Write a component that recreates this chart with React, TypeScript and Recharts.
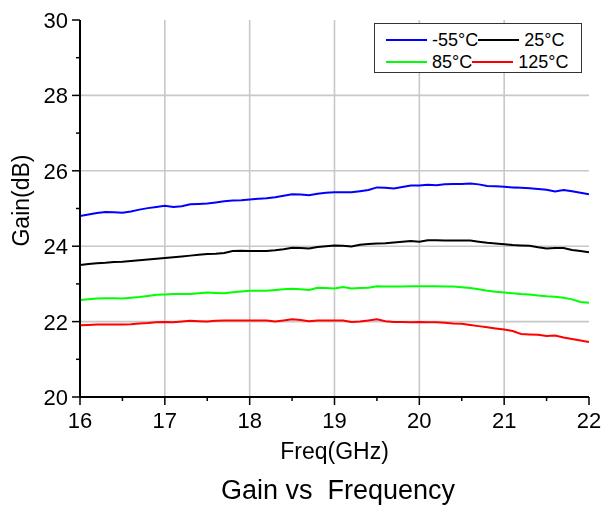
import { LineChart, Line, XAxis, YAxis, Legend, ReferenceLine } from "recharts";

const FONT = "'Liberation Sans', Arial, sans-serif";

// frequency points, GHz
const freq = [
  16.0, 16.1, 16.2, 16.3, 16.4, 16.5, 16.6, 16.7, 16.8, 16.9,
  17.0, 17.1, 17.2, 17.3, 17.4, 17.5, 17.6, 17.7, 17.8, 17.9,
  18.0, 18.1, 18.2, 18.3, 18.4, 18.5, 18.6, 18.7, 18.8, 18.9,
  19.0, 19.1, 19.2, 19.3, 19.4, 19.5, 19.6, 19.7, 19.8, 19.9,
  20.0, 20.1, 20.2, 20.3, 20.4, 20.5, 20.6, 20.7, 20.8, 20.9,
  21.0, 21.1, 21.2, 21.3, 21.4, 21.5, 21.6, 21.7, 21.8, 21.9,
  22.0,
];

// gain in dB per temperature
const gainM55 = [
  24.8, 24.84, 24.88, 24.91, 24.9, 24.89, 24.92, 24.97, 25.01, 25.04,
  25.07, 25.04, 25.06, 25.11, 25.12, 25.13, 25.16, 25.19, 25.21, 25.22,
  25.24, 25.26, 25.27, 25.3, 25.34, 25.38, 25.37, 25.35, 25.39, 25.42,
  25.43, 25.43, 25.43, 25.46, 25.49, 25.56, 25.55, 25.53, 25.57, 25.61,
  25.61, 25.63, 25.62, 25.64, 25.65, 25.65, 25.66, 25.64, 25.6, 25.59,
  25.58, 25.56, 25.55, 25.54, 25.52, 25.5, 25.45, 25.49, 25.46, 25.42,
  25.38,
];
const gain25 = [
  23.5, 23.53, 23.55, 23.56, 23.58, 23.59, 23.61, 23.63, 23.65, 23.67,
  23.69, 23.71, 23.73, 23.75, 23.77, 23.79, 23.8, 23.82, 23.87, 23.88,
  23.87, 23.87, 23.87, 23.89, 23.92, 23.96, 23.95, 23.94, 23.98, 24.0,
  24.02, 24.01, 23.99, 24.04, 24.06, 24.07, 24.08, 24.1, 24.12, 24.14,
  24.12, 24.16, 24.16, 24.15, 24.15, 24.15, 24.15, 24.12, 24.09, 24.07,
  24.05, 24.03, 24.02, 24.01, 23.97, 23.94, 23.95, 23.95, 23.9, 23.87,
  23.84,
];
const gain85 = [
  22.57, 22.59, 22.61, 22.62, 22.62, 22.61, 22.63, 22.65, 22.68, 22.71,
  22.72, 22.73, 22.73, 22.73, 22.75, 22.77, 22.76, 22.75, 22.78, 22.8,
  22.82, 22.82, 22.82, 22.84, 22.86, 22.87, 22.86, 22.84, 22.9, 22.89,
  22.88, 22.92, 22.88, 22.89, 22.9, 22.94, 22.93, 22.93, 22.93, 22.94,
  22.94, 22.94, 22.94, 22.93, 22.93, 22.91, 22.89, 22.86, 22.82, 22.79,
  22.77, 22.75, 22.73, 22.72, 22.69, 22.67, 22.66, 22.63, 22.59, 22.52,
  22.5,
];
const gain125 = [
  21.9, 21.91, 21.92, 21.92, 21.92, 21.92, 21.93, 21.95, 21.96, 21.98,
  21.99, 21.98, 22.0, 22.02, 22.01, 22.0, 22.02, 22.03, 22.03, 22.03,
  22.03, 22.03, 22.03, 22.0, 22.03, 22.06, 22.04, 22.01, 22.03, 22.03,
  22.03, 22.03, 21.99, 22.0, 22.03, 22.06, 22.01, 21.99, 21.99, 21.98,
  21.99, 21.98, 21.98, 21.97, 21.95, 21.94, 21.91, 21.88, 21.85, 21.82,
  21.79, 21.75, 21.67, 21.66, 21.65, 21.62, 21.63, 21.58, 21.54, 21.5,
  21.46,
];

const seriesNames = ["-55°C", "25°C", "85°C", "125°C"];
const seriesColors = ["#0000ff", "#000000", "#00ff00", "#ff0000"];

const xTicks = [16, 16.5, 17, 17.5, 18, 18.5, 19, 19.5, 20, 20.5, 21, 21.5, 22];
const yTicks = [20, 21, 22, 23, 24, 25, 26, 27, 28, 29, 30];
const xGrid = [17, 18, 19, 20, 21];
const yGrid = [22, 24, 26, 28];

const data = freq.map((f, i) => ({
  f,
  s0: gainM55[i],
  s1: gain25[i],
  s2: gain85[i],
  s3: gain125[i],
}));

const BottomTick = (props: any) => {
  const { x, y, payload } = props;
  const major = Number.isInteger(payload.value);
  return (
    <g>
      <line x1={x} y1={y} x2={x} y2={y + (major ? 8 : 4)} stroke="#000" strokeWidth={1.5} />
      {major && (
        <text x={x} y={y + 31} textAnchor="middle" fontSize={22} fontFamily={FONT} fill="#000">
          {payload.value}
        </text>
      )}
    </g>
  );
};

const LeftTick = (props: any) => {
  const { x, y, payload } = props;
  const major = payload.value % 2 === 0;
  return (
    <g>
      <line x1={x} y1={y} x2={x - (major ? 8 : 4)} y2={y} stroke="#000" strokeWidth={1.5} />
      {major && (
        <text x={x - 12} y={y} dy="0.36em" textAnchor="end" fontSize={22} fontFamily={FONT} fill="#000">
          {payload.value}
        </text>
      )}
    </g>
  );
};

const RightTick = (props: any) => {
  const { x, y, payload } = props;
  const major = payload.value % 2 === 0;
  return <line x1={x} y1={y} x2={x + (major ? 6 : 3)} y2={y} stroke="#000" strokeWidth={1.5} />;
};

const LegendBox = () => {
  const rows = [
    [0, 1],
    [2, 3],
  ];
  return (
    <div
      style={{
        width: 208,
        height: 50,
        boxSizing: "border-box",
        border: "1px solid #333",
        background: "#fff",
        fontFamily: FONT,
        fontSize: 18,
        color: "#000",
        paddingTop: 5,
      }}
    >
      {rows.map((row, r) => (
        <div key={r} style={{ display: "flex", alignItems: "center", height: 22, paddingLeft: 11 }}>
          {row.map((i) => (
            <div key={i} style={{ display: "flex", alignItems: "center" }}>
              <span style={{ display: "inline-block", width: 41, height: 2, background: seriesColors[i], marginRight: 5 }} />
              <span style={{ lineHeight: "22px" }}>{seriesNames[i]}</span>
            </div>
          ))}
        </div>
      ))}
    </div>
  );
};

export default function App() {
  return (
    <div style={{ position: "fixed", left: 8, top: 8, width: 594, height: 498, fontFamily: FONT }}>
      <LineChart width={594} height={498} data={data} margin={{ top: 12, right: 13, left: 0, bottom: 0 }}>
        {xGrid.map((v) => (
          <ReferenceLine key={"gx" + v} x={v} stroke="#c8c8c8" strokeWidth={1.6} />
        ))}
        {yGrid.map((v) => (
          <ReferenceLine key={"gy" + v} y={v} stroke="#c8c8c8" strokeWidth={1.6} />
        ))}
        <XAxis
          dataKey="f"
          type="number"
          domain={[16, 22]}
          ticks={xTicks}
          interval={0}
          height={109}
          tickSize={0}
          tickMargin={0}
          tickLine={false}
          tick={<BottomTick />}
          axisLine={{ stroke: "#000", strokeWidth: 2 }}
          allowDataOverflow
          label={{
            content: (p: any) => {
              const vb = p.viewBox;
              return (
                <text x={vb.x + vb.width / 2} y={vb.y + 62} textAnchor="middle" fontSize={23} fontFamily={FONT} fill="#000">
                  Freq(GHz)
                </text>
              );
            },
          }}
        />
        <XAxis
          xAxisId="top"
          orientation="top"
          type="number"
          domain={[16, 22]}
          height={0}
          tick={false}
          tickLine={false}
          axisLine={{ stroke: "#000", strokeWidth: 2 }}
        />
        <YAxis
          type="number"
          domain={[20, 30]}
          ticks={yTicks}
          interval={0}
          width={72}
          tickSize={0}
          tickMargin={0}
          tickLine={false}
          tick={<LeftTick />}
          axisLine={{ stroke: "#000", strokeWidth: 2 }}
          allowDataOverflow
          label={{
            content: (p: any) => {
              const vb = p.viewBox;
              const cx = vb.x + 13;
              const cy = vb.y + vb.height / 2 - 8;
              return (
                <text
                  x={cx}
                  y={cy}
                  dy="0.36em"
                  textAnchor="middle"
                  transform={`rotate(-90 ${cx} ${cy})`}
                  fontSize={23}
                  fontFamily={FONT}
                  fill="#000"
                >
                  Gain(dB)
                </text>
              );
            },
          }}
        />
        <YAxis
          yAxisId="right"
          orientation="right"
          type="number"
          domain={[20, 30]}
          ticks={yTicks}
          interval={0}
          width={0}
          tickSize={0}
          tickMargin={0}
          tickLine={false}
          tick={<RightTick />}
          axisLine={{ stroke: "#000", strokeWidth: 2 }}
        />
        {seriesNames.map((name, i) => (
          <Line
            key={name}
            type="linear"
            dataKey={"s" + i}
            name={name}
            stroke={seriesColors[i]}
            strokeWidth={2}
            dot={false}
            isAnimationActive={false}
          />
        ))}
        <Legend
          layout="vertical"
          align="center"
          verticalAlign="middle"
          content={() => <LegendBox />}
          wrapperStyle={{ left: 366, top: 15, width: 208, height: 50 }}
        />
      </LineChart>
      <div
        style={{
          position: "absolute",
          left: 330,
          top: 469,
          transform: "translateX(-50%)",
          fontSize: 27,
          lineHeight: 1,
          whiteSpace: "pre",
          color: "#000",
        }}
      >
        {"Gain vs  Frequency"}
      </div>
    </div>
  );
}
